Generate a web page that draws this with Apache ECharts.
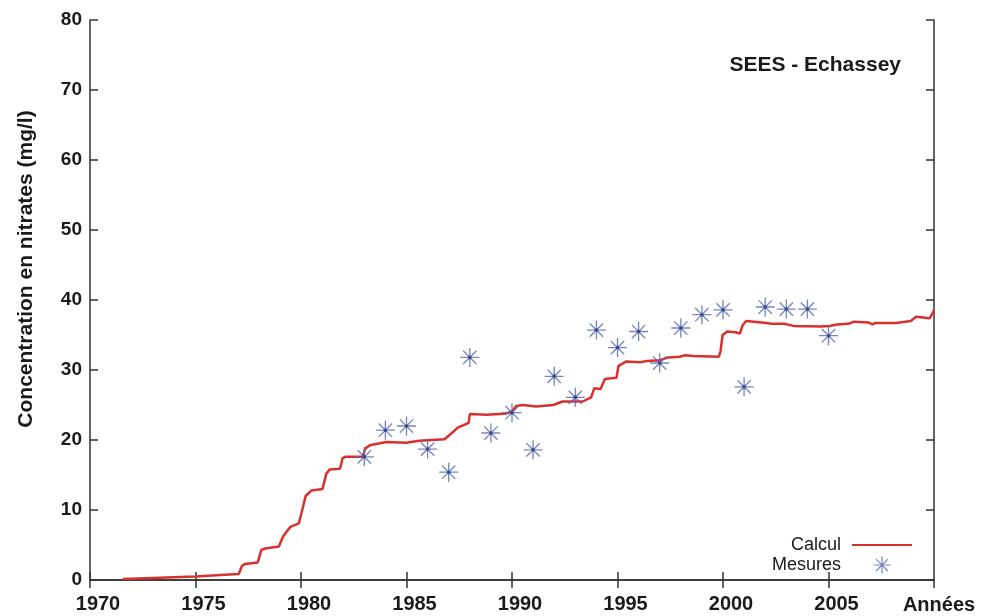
<!DOCTYPE html>
<html>
<head>
<meta charset="utf-8">
<script src="https://cdn.jsdelivr.net/npm/echarts@6/dist/echarts.min.js"></script>
<style>
html,body{margin:0;padding:0;background:#fff;}
#chart{width:983px;height:616px;}
</style>
</head>
<body>
<div id="chart"></div>
<script>
// ---- data ----
const titleText = 'SEES - Echassey';
const yAxisTitle = 'Concentration en nitrates (mg/l)';
const xAxisTitle = 'Années';
const xTicks = [1970, 1975, 1980, 1985, 1990, 1995, 2000, 2005, 2010];
const yTicks = [0, 10, 20, 30, 40, 50, 60, 70, 80];

const calcYears = [1971.55, 1975.0, 1976.6, 1977.05, 1977.2, 1977.35, 1977.95, 1978.12, 1978.3, 1978.95,
  1979.15, 1979.5, 1979.9, 1980.1, 1980.22, 1980.5, 1981.02, 1981.2, 1981.37, 1981.85,
  1981.97, 1982.1, 1982.92, 1983.05, 1983.3, 1984.05, 1985.0, 1985.6, 1986.8, 1987.15,
  1987.45, 1987.85, 1987.95, 1988.0, 1988.8, 1989.75, 1990.0, 1990.2, 1990.5, 1991.15,
  1991.95, 1992.4, 1993.35, 1993.75, 1993.9, 1994.2, 1994.4, 1994.95, 1995.05, 1995.4,
  1996.1, 1996.4, 1997.0, 1997.4, 1997.95, 1998.2, 1998.6, 1999.8, 1999.88, 1999.98,
  2000.2, 2000.6, 2000.8, 2000.93, 2001.1, 2002.05, 2002.3, 2002.9, 2003.35, 2004.6,
  2005.05, 2005.4, 2005.95, 2006.2, 2006.9, 2007.08, 2007.2, 2008.2, 2008.9, 2009.15,
  2009.8, 2009.97, 2010.0];
const calcValues = [0.15, 0.5, 0.8, 0.85, 2.0, 2.3, 2.5, 4.3, 4.5, 4.8,
  6.2, 7.6, 8.1, 10.5, 12.0, 12.8, 13.0, 15.2, 15.8, 15.9,
  17.4, 17.6, 17.6, 18.8, 19.3, 19.7, 19.6, 19.9, 20.1, 21.0,
  21.8, 22.3, 22.5, 23.7, 23.6, 23.8, 24.1, 24.85, 25.0, 24.8,
  25.0, 25.5, 25.5, 26.1, 27.4, 27.3, 28.7, 28.9, 30.6, 31.2,
  31.1, 31.3, 31.4, 31.8, 31.9, 32.1, 32.0, 31.9, 32.6, 35.0,
  35.5, 35.4, 35.2, 36.4, 37.0, 36.7, 36.6, 36.6, 36.3, 36.2,
  36.3, 36.5, 36.6, 36.9, 36.8, 36.5, 36.7, 36.7, 37.0, 37.6,
  37.4, 38.3, 38.6];

const mesureYears = [1983, 1984, 1985, 1986, 1987, 1988, 1989, 1990, 1991, 1992, 1993, 1994,
  1995, 1996, 1997, 1998, 1999, 2000, 2001, 2002, 2003, 2004, 2005];
const mesureValues = [17.6, 21.4, 22.0, 18.7, 15.4, 31.8, 21.0, 23.9, 18.6, 29.1, 26.1, 35.7,
  33.2, 35.5, 31.0, 36.0, 37.9, 38.6, 27.6, 39.0, 38.7, 38.7, 34.9];

// ---- build ----
const calcData = calcYears.map((y, i) => [y, calcValues[i]]);
const mesureData = mesureYears.map((y, i) => [y, mesureValues[i]]);

const FONT = '"Liberation Sans", Arial, sans-serif';
const starPath = 'path://M9.3 0 L10.7 0 L10.7 20 L9.3 20 Z ' +
  'M0 9.3 L20 9.3 L20 10.7 L0 10.7 Z ' +
  'M2.5 3.5 L3.5 2.5 L17.5 16.5 L16.5 17.5 Z ' +
  'M16.5 2.5 L17.5 3.5 L3.5 17.5 L2.5 16.5 Z';

const axisLineStyle = { color: '#333', width: 1.5 };
const xMin = xTicks[0], xMax = xTicks[xTicks.length - 1];
const yMin = yTicks[0], yMax = yTicks[yTicks.length - 1];

const chart = echarts.init(document.getElementById('chart'));
chart.setOption({
  backgroundColor: '#fff',
  animation: false,
  textStyle: { fontFamily: FONT },
  title: {
    text: titleText,
    right: 77, top: 50,
    textStyle: { fontFamily: FONT, fontSize: 21, fontWeight: 'bold', color: '#1a1a1a' }
  },
  legend: {
    orient: 'vertical',
    right: 65, bottom: 37,
    align: 'right',
    itemWidth: 60, itemHeight: 17, itemGap: 2,
    textStyle: { fontFamily: FONT, fontSize: 18, color: '#1a1a1a', padding: [0, 6, 0, 0] },
    data: [
      { name: 'Calcul', itemStyle: { opacity: 0 } },
      { name: 'Mesures' }
    ]
  },
  grid: { left: 90, right: 49, top: 20, bottom: 36 },
  xAxis: [{
    type: 'value', min: xMin, max: xMax, interval: 5,
    name: xAxisTitle, nameLocation: 'end', nameGap: 5,
    nameTextStyle: { fontFamily: FONT, fontSize: 20, fontWeight: 'bold', color: '#1a1a1a',
      align: 'center', verticalAlign: 'top', padding: [15, 0, 0, 0] },
    axisLine: { show: true, lineStyle: axisLineStyle },
    axisTick: { show: true, inside: true, length: 8, lineStyle: axisLineStyle },
    axisLabel: { fontFamily: FONT, fontSize: 20, fontWeight: 'bold', color: '#1a1a1a', margin: 14,
      showMaxLabel: false, padding: [0, 0, 0, 16], formatter: v => String(v) },
    splitLine: { show: false }
  }, {
    type: 'value', min: xMin, max: xMax, interval: 5, position: 'top',
    axisLine: { show: true, lineStyle: axisLineStyle },
    axisTick: { show: true, inside: true, length: 8, lineStyle: axisLineStyle },
    axisLabel: { show: false }, splitLine: { show: false }
  }],
  yAxis: [{
    type: 'value', min: yMin, max: yMax, interval: 10,
    name: yAxisTitle, nameLocation: 'middle', nameGap: 53, nameRotate: 90,
    nameTextStyle: { fontFamily: FONT, fontSize: 21, fontWeight: 'bold', color: '#1a1a1a',
      padding: [0, 0, 0, 62] },
    axisLine: { show: true, lineStyle: axisLineStyle },
    axisTick: { show: true, inside: true, length: 8, lineStyle: axisLineStyle },
    axisLabel: { fontFamily: FONT, fontSize: 19, fontWeight: 'bold', color: '#1a1a1a', margin: 8 },
    splitLine: { show: false }
  }, {
    type: 'value', min: yMin, max: yMax, interval: 10, position: 'right',
    axisLine: { show: true, lineStyle: axisLineStyle },
    axisTick: { show: true, inside: true, length: 8, lineStyle: axisLineStyle },
    axisLabel: { show: false }, splitLine: { show: false }
  }],
  series: [{
    name: 'Calcul',
    type: 'line',
    data: calcData,
    showSymbol: false,
    symbol: 'none',
    lineStyle: { color: '#d8312d', width: 2.5 },
    itemStyle: { color: '#d8312d' },
    z: 3
  }, {
    name: 'Mesures',
    type: 'scatter',
    data: mesureData,
    symbol: starPath,
    symbolSize: 19,
    symbolKeepAspect: true,
    itemStyle: { color: '#5566aa', opacity: 0.8 },
    z: 4
  }, {
    name: 'centre',
    type: 'scatter',
    data: mesureData,
    symbol: 'circle',
    symbolSize: 3.5,
    itemStyle: { color: '#2a3a85' },
    silent: true,
    z: 5
  }]
});
</script>
</body>
</html>
